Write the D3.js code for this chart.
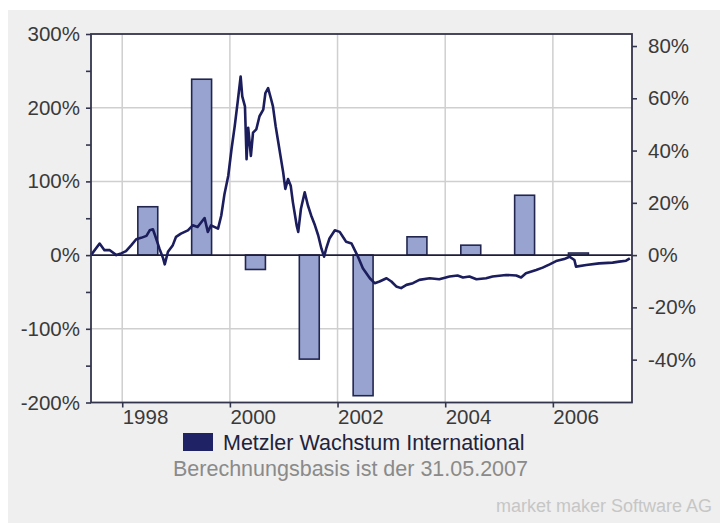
<!DOCTYPE html>
<html>
<head>
<meta charset="utf-8">
<script src="https://cdn.jsdelivr.net/npm/d3@7/dist/d3.min.js"></script>
<style>
  html, body { margin: 0; padding: 0; background: #ffffff; }
  svg { display: block; }
  text { font-family: "Liberation Sans", Arial, sans-serif; }
</style>
</head>
<body>
<svg id="chart" width="720" height="523"></svg>
<script>
// ---- data ----
const barYears = [1998, 1999, 2000, 2001, 2002, 2003, 2004, 2005, 2006];
const barValues = [18.5, 67.3, -5.5, -39.8, -53.8, 7.0, 3.8, 22.9, 0.8]; // right axis, % per year

const lineTimes = [1997.42, 1997.58, 1997.67, 1997.77, 1997.89, 1997.98, 1998.07, 1998.17, 1998.26, 1998.35,
  1998.45, 1998.51, 1998.57, 1998.63, 1998.69, 1998.76, 1998.79, 1998.85, 1998.94, 1999.00,
  1999.09, 1999.22, 1999.31, 1999.40, 1999.53, 1999.59, 1999.65, 1999.78, 1999.84, 1999.90,
  1999.97, 2000.03, 2000.09, 2000.15, 2000.20, 2000.23, 2000.28, 2000.31, 2000.34, 2000.39,
  2000.43, 2000.49, 2000.55, 2000.62, 2000.66, 2000.71, 2000.76, 2000.80, 2000.85, 2000.89,
  2000.94, 2000.99, 2001.03, 2001.08, 2001.13, 2001.17, 2001.24, 2001.27, 2001.32, 2001.39,
  2001.45, 2001.51, 2001.58, 2001.64, 2001.70, 2001.75, 2001.79, 2001.85, 2001.95, 2002.04,
  2002.12, 2002.16, 2002.26, 2002.32, 2002.38, 2002.47, 2002.60, 2002.69, 2002.78, 2002.91,
  2003.00, 2003.09, 2003.18, 2003.28, 2003.40, 2003.52, 2003.71, 2003.89, 2004.08, 2004.23,
  2004.33, 2004.45, 2004.58, 2004.76, 2004.88, 2005.13, 2005.32, 2005.41, 2005.50, 2005.69,
  2005.81, 2005.94, 2006.06, 2006.21, 2006.31, 2006.40, 2006.43, 2006.62, 2006.86, 2007.11,
  2007.23, 2007.36, 2007.43];
const lineValues = [0, 15.7, 6.7, 6.7, 0, 2.3, 5.4, 13.5, 21.5, 23.4,
  26.1, 33.6, 35, 22.5, 9, -4.4, -12.5, 4.6, 13.5, 24.8,
  29.2, 33.6, 40.4, 38.2, 50.3, 31.5, 40.4, 35.9, 53.8, 83,
  107.7, 143.6, 175, 210.9, 242.3, 215.3, 201.9, 130.1, 172.8, 134.6,
  166.1, 170.5, 188.4, 197.4, 219.9, 226.6, 213.2, 201.9, 175, 157.1,
  134.6, 112.2, 89.8, 103.2, 94.2, 71.9, 40.4, 31.5, 62.9, 85.3,
  67.3, 53.8, 40.4, 26.9, 9, -2.2, 9, 22.5, 33.6, 31.5,
  22.5, 18, 15.7, 6.7, -2.2, -17.9, -31.4, -38.1, -35.8, -31.4,
  -35.8, -42.5, -44.8, -40.4, -38.1, -33.6, -31.4, -32.7, -29.1, -27.7,
  -30.4, -29.1, -32.7, -31.4, -29.1, -26.9, -27.7, -30.4, -24.6, -20.2,
  -17, -12.5, -8.1, -5.4, -2.2, -6.7, -15.6, -13.5, -11.2, -10.2,
  -8.9, -7.6, -4.4];

const xTicks = [1998, 2000, 2002, 2004, 2006];
const leftTicks = [-200, -100, 0, 100, 200, 300];
const leftMinorTicks = [-150, -50, 50, 150, 250];
const rightTicks = [-40, -20, 0, 20, 40, 60, 80];
const legendLabel = "Metzler Wachstum International";
const subtitle = "Berechnungsbasis ist der 31.05.2007";
const footer = "market maker Software AG";

// ---- layout ----
const L = 91, R = 632, T = 34, B = 402.5;
const svg = d3.select("#chart");

svg.append("rect").attr("x", 8).attr("y", 10).attr("width", 712).attr("height", 513).attr("fill", "#efefef");
svg.append("rect").attr("x", L).attr("y", T).attr("width", R - L).attr("height", B - T).attr("fill", "#ffffff");

const x = d3.scaleLinear().domain([1997.42, 2007.47]).range([L, R]);
const yL = d3.scaleLinear().domain([-200, 300]).range([B, T]);
const yR = d3.scaleLinear().domain([-56.4, 84.6]).range([B, T]);

// gridlines
const grid = svg.append("g");
grid.selectAll("line.v").data(xTicks).join("line")
  .attr("x1", d => x(d)).attr("x2", d => x(d)).attr("y1", T).attr("y2", B)
  .attr("stroke", "#cfcfcf").attr("stroke-width", 1.5);
grid.selectAll("line.h").data(leftTicks.filter(d => d !== 0 && d !== 300 && d !== -200)).join("line")
  .attr("x1", L).attr("x2", R).attr("y1", d => yL(d)).attr("y2", d => yL(d))
  .attr("stroke", "#cfcfcf").attr("stroke-width", 1.5);

// bars (right axis)
svg.append("g").selectAll("rect").data(barYears.map((yr, i) => ({ yr, v: barValues[i] }))).join("rect")
  .attr("x", d => x(d.yr + 0.29))
  .attr("width", d => x(d.yr + 0.66) - x(d.yr + 0.29))
  .attr("y", d => yR(Math.max(0, d.v)))
  .attr("height", d => Math.abs(yR(d.v) - yR(0)))
  .attr("fill", "#98a4cf").attr("stroke", "#22264f").attr("stroke-width", 1.6);

// zero line
svg.append("line").attr("x1", L).attr("x2", R).attr("y1", yL(0)).attr("y2", yL(0))
  .attr("stroke", "#1e1e3a").attr("stroke-width", 1.6);

// performance line (left axis)
const line = d3.line().x((d, i) => x(lineTimes[i])).y(d => yL(d)).curve(d3.curveLinear);
svg.append("path").datum(lineValues).attr("d", line)
  .attr("fill", "none").attr("stroke", "#1b1d5c").attr("stroke-width", 2.6).attr("stroke-linejoin", "round");

// frame
svg.append("rect").attr("x", L).attr("y", T).attr("width", R - L).attr("height", B - T)
  .attr("fill", "none").attr("stroke", "#33354d").attr("stroke-width", 1.8);

// left axis
const axL = svg.append("g").attr("transform", `translate(${L},0)`)
  .call(d3.axisLeft(yL).tickValues(leftTicks).tickSize(5).tickPadding(6).tickFormat(d => d + "%"));
axL.select(".domain").remove();
const axLm = svg.append("g").attr("transform", `translate(${L},0)`)
  .call(d3.axisLeft(yL).tickValues(leftMinorTicks).tickSize(5).tickFormat(""));
axLm.select(".domain").remove();

// right axis
const axR = svg.append("g").attr("transform", `translate(${R},0)`)
  .call(d3.axisRight(yR).tickValues(rightTicks).tickSize(5).tickPadding(11).tickFormat(d => d + "%"));
axR.select(".domain").remove();

// bottom axis (labels start at the tick)
const axB = svg.append("g").attr("transform", `translate(0,${B})`)
  .call(d3.axisBottom(x).tickValues(xTicks).tickSize(5).tickPadding(2).tickFormat(d3.format("d")));
axB.select(".domain").remove();
axB.selectAll(".tick text").attr("text-anchor", "start").attr("x", 0);

svg.selectAll(".tick line").attr("stroke", "#33354d").attr("stroke-width", 1.6);
svg.selectAll(".tick text").attr("font-size", 20.5).attr("fill", "#3a3a3a")
  .attr("font-family", "'Liberation Sans', Arial, sans-serif");

// legend
svg.append("rect").attr("x", 183).attr("y", 433).attr("width", 30).attr("height", 18).attr("fill", "#1f2366");
svg.append("text").attr("x", 223).attr("y", 442).attr("dy", "0.35em").attr("font-size", 21.5)
  .attr("fill", "#22223a").text(legendLabel);
svg.append("text").attr("x", 173).attr("y", 468).attr("dy", "0.35em").attr("font-size", 21.5)
  .attr("fill", "#8a8a8a").text(subtitle);
svg.append("text").attr("x", 712).attr("y", 506).attr("dy", "0.35em").attr("font-size", 18)
  .attr("text-anchor", "end").attr("fill", "#c6c6c6").text(footer);
</script>
</body>
</html>
